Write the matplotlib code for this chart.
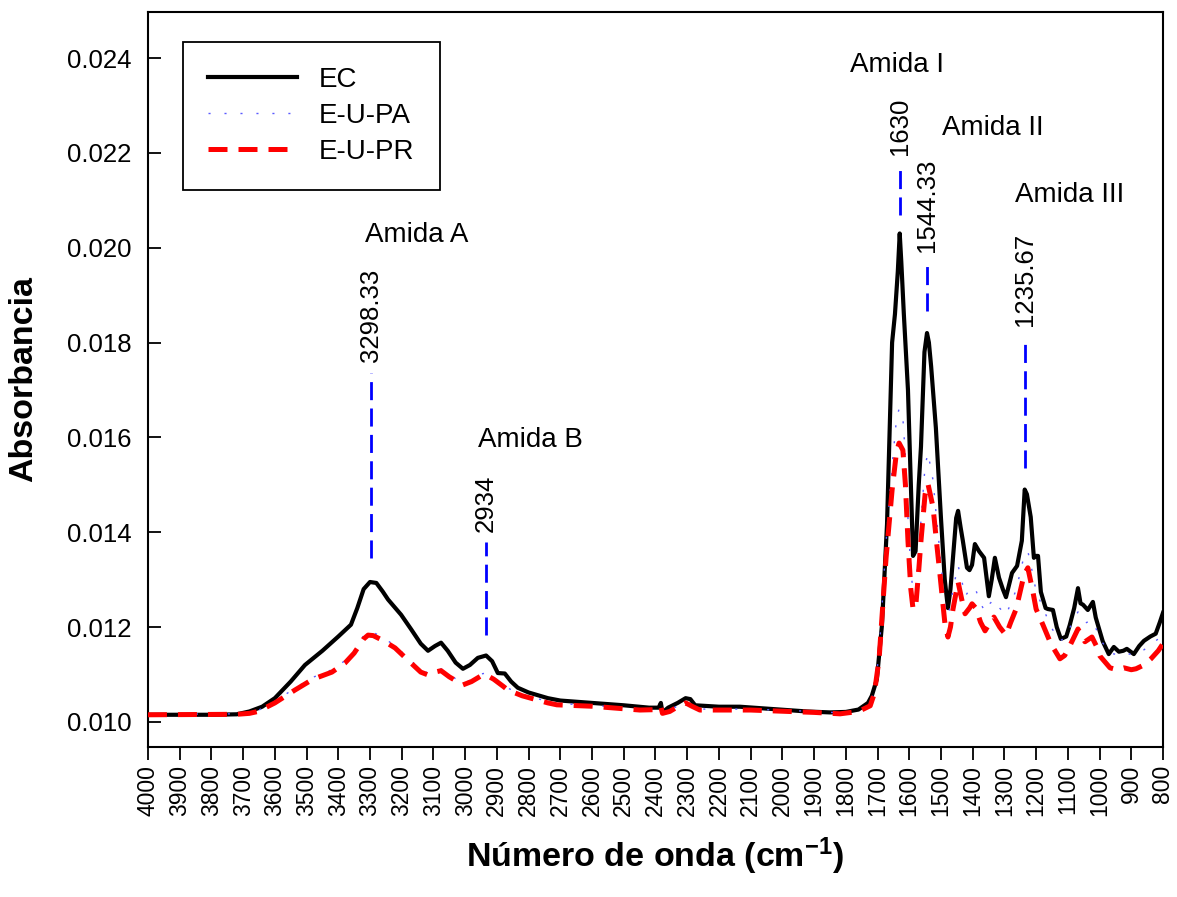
import matplotlib
matplotlib.use("Agg")
import matplotlib.pyplot as plt
from matplotlib.ticker import MultipleLocator, FormatStrFormatter

plt.rcParams['font.family'] = ['Liberation Sans', 'DejaVu Sans']
plt.rcParams['mathtext.fontset'] = 'custom'
plt.rcParams['mathtext.rm'] = 'Liberation Sans:bold'
plt.rcParams['mathtext.it'] = 'Liberation Sans:bold'
plt.rcParams['mathtext.bf'] = 'Liberation Sans:bold'

# -----------------------------
# Data
# -----------------------------
wn_ec = [4000, 3900, 3800, 3720, 3680, 3640, 3600, 3550, 3505, 3450, 3400, 3360,
         3340, 3320, 3300, 3280, 3260, 3243, 3220, 3202, 3170, 3140, 3117, 3095,
         3076, 3055, 3030, 3007, 2985, 2960, 2934, 2915, 2897, 2875, 2855, 2834,
         2800, 2739, 2700, 2600, 2500, 2420, 2390, 2383, 2378, 2360, 2330, 2305,
         2290, 2275, 2200, 2134, 2050, 1923, 1850, 1800, 1760, 1730, 1718, 1702,
         1686, 1670, 1654, 1645, 1636, 1630, 1625, 1617, 1604, 1595, 1588, 1580,
         1570, 1563, 1552, 1544, 1538, 1531, 1516, 1500, 1488, 1478, 1470, 1462,
         1452, 1446, 1438, 1431, 1418, 1410, 1402, 1393, 1380, 1364, 1349, 1340,
         1330, 1317, 1305, 1295, 1285, 1276, 1260, 1245, 1236, 1229, 1217, 1207,
         1200, 1194, 1185, 1170, 1163, 1147, 1135, 1122, 1105, 1094, 1080, 1068,
         1060, 1052, 1037, 1021, 1012, 1005, 990, 971, 955, 939, 925, 914,
         892, 875, 860, 840, 823, 810, 800]
ec = [0.01015, 0.01015, 0.01015, 0.01016, 0.01022, 0.01032, 0.01050, 0.01085, 0.01120, 0.01150, 0.01180, 0.01205,
      0.01240, 0.01280, 0.01295, 0.01293, 0.01275, 0.01258, 0.01240, 0.01226, 0.01195, 0.01165, 0.01150, 0.01160,
      0.01167, 0.01150, 0.01125, 0.01112, 0.01120, 0.01135, 0.01140, 0.01128, 0.01103, 0.01102, 0.01085, 0.01072,
      0.01062, 0.01050, 0.01045, 0.01040, 0.01035, 0.01030, 0.01030, 0.01040, 0.01020, 0.01030, 0.01040, 0.01050,
      0.01048, 0.01035, 0.01032, 0.01032, 0.01028, 0.01022, 0.01020, 0.01021, 0.01026, 0.01040, 0.01055, 0.01090,
      0.01204, 0.01417, 0.01800, 0.01860, 0.01950, 0.02030, 0.01970, 0.01860, 0.01700, 0.01500, 0.01350, 0.01360,
      0.01500, 0.01580, 0.01780, 0.01820, 0.01800, 0.01750, 0.01620, 0.01430, 0.01300, 0.01240, 0.01280, 0.01346,
      0.01430, 0.01445, 0.01410, 0.01382, 0.01325, 0.01320, 0.01331, 0.01375, 0.01360, 0.01346, 0.01265, 0.01300,
      0.01346, 0.01304, 0.01280, 0.01263, 0.01290, 0.01314, 0.01329, 0.01382, 0.01490, 0.01480, 0.01432, 0.01346,
      0.01350, 0.01350, 0.01274, 0.01240, 0.01238, 0.01236, 0.01200, 0.01175, 0.01180, 0.01204, 0.01240, 0.01282,
      0.01250, 0.01247, 0.01236, 0.01253, 0.01220, 0.01204, 0.01170, 0.01143, 0.01158, 0.01148, 0.01150, 0.01154,
      0.01143, 0.01160, 0.01171, 0.01180, 0.01186, 0.01210, 0.01230]

wn_eu = [4000, 3720, 3680, 3653, 3600, 3537, 3480, 3420, 3379, 3350, 3320, 3306,
         3290, 3260, 3221, 3180, 3140, 3117, 3095, 3076, 3050, 3007, 2980, 2950,
         2934, 2910, 2880, 2865, 2820, 2739, 2711, 2600, 2449, 2390, 2383, 2378,
         2355, 2330, 2305, 2285, 2260, 2100, 1900, 1818, 1760, 1723, 1710, 1695,
         1673, 1654, 1640, 1632, 1620, 1612, 1604, 1595, 1588, 1580, 1570, 1563,
         1550, 1541, 1525, 1514, 1503, 1487, 1478, 1470, 1462, 1446, 1435, 1424,
         1410, 1402, 1390, 1375, 1361, 1345, 1333, 1315, 1295, 1280, 1263, 1245,
         1238, 1226, 1210, 1200, 1178, 1153, 1125, 1110, 1094, 1068, 1055, 1046,
         1024, 1010, 999, 967, 945, 923, 900, 885, 860, 838, 815, 800]
eu_pa = [0.01016, 0.01017, 0.01019, 0.01024, 0.01043, 0.01071, 0.01094, 0.01110, 0.01129, 0.01150, 0.01182, 0.01190,
         0.01189, 0.01178, 0.01161, 0.01135, 0.01110, 0.01103, 0.01109, 0.01112, 0.01099, 0.01082, 0.01089, 0.01101,
         0.01103, 0.01094, 0.01079, 0.01071, 0.01058, 0.01043, 0.01039, 0.01035, 0.01027, 0.01028, 0.01034, 0.01020,
         0.01024, 0.01034, 0.01042, 0.01035, 0.01027, 0.01027, 0.01022, 0.01019, 0.01024, 0.01037, 0.01065, 0.01145,
         0.01380, 0.01540, 0.01640, 0.01660, 0.01640, 0.01560, 0.01430, 0.01320, 0.01275, 0.01280, 0.01360, 0.01425,
         0.01540, 0.01567, 0.01510, 0.01430, 0.01355, 0.01245, 0.01225, 0.01245, 0.01280, 0.01330, 0.01300, 0.01265,
         0.01278, 0.01285, 0.01278, 0.01250, 0.01232, 0.01250, 0.01258, 0.01240, 0.01225, 0.01250, 0.01278, 0.01330,
         0.01350, 0.01360, 0.01310, 0.01275, 0.01240, 0.01200, 0.01170, 0.01178, 0.01198, 0.01232, 0.01218, 0.01208,
         0.01215, 0.01195, 0.01175, 0.01145, 0.01142, 0.01146, 0.01142, 0.01143, 0.01152, 0.01163, 0.01175, 0.01190]
eu_pr = [0.01015, 0.01016, 0.01018, 0.01022, 0.01040, 0.01067, 0.01090, 0.01105, 0.01124, 0.01145, 0.01175, 0.01183,
         0.01182, 0.01172, 0.01156, 0.01130, 0.01105, 0.01099, 0.01105, 0.01108, 0.01095, 0.01078, 0.01085, 0.01097,
         0.01099, 0.01090, 0.01075, 0.01067, 0.01055, 0.01040, 0.01036, 0.01033, 0.01025, 0.01026, 0.01032, 0.01018,
         0.01022, 0.01032, 0.01040, 0.01033, 0.01025, 0.01025, 0.01020, 0.01017, 0.01022, 0.01034, 0.01060, 0.01133,
         0.01346, 0.01489, 0.01570, 0.01588, 0.01573, 0.01500, 0.01382, 0.01280, 0.01238, 0.01240, 0.01320, 0.01382,
         0.01480, 0.01502, 0.01453, 0.01380, 0.01310, 0.01204, 0.01179, 0.01200, 0.01238, 0.01295, 0.01260, 0.01228,
         0.01240, 0.01249, 0.01240, 0.01210, 0.01192, 0.01210, 0.01221, 0.01200, 0.01183, 0.01210, 0.01238, 0.01290,
         0.01310, 0.01325, 0.01274, 0.01238, 0.01204, 0.01164, 0.01133, 0.01140, 0.01160, 0.01196, 0.01180, 0.01169,
         0.01179, 0.01160, 0.01139, 0.01114, 0.01110, 0.01114, 0.01110, 0.01112, 0.01120, 0.01133, 0.01150, 0.01165]

# peak markers: position, line bottom, line top, band name, name position
peak_pos = [3298.33, 2934, 1630, 1544.33, 1235.67]
peak_labels = ["3298.33", "2934", "1630", "1544.33", "1235.67"]
line_lo = [0.01346, 0.01183, 0.02069, 0.01866, 0.01535]
line_hi = [0.01736, 0.01379, 0.02174, 0.01968, 0.01812]
band_names = ["Amida A", "Amida B", "Amida I", "Amida II", "Amida III"]
band_x = [3316, 2960, 1787, 1497, 1267]
band_y = [0.02027, 0.01594, 0.02385, 0.02252, 0.02111]

# -----------------------------
# Plot
# -----------------------------
fig = plt.figure(figsize=(11.77, 8.97), dpi=100)
ax = fig.add_axes([0.1257, 0.1672, 0.8624, 0.8194])

ax.plot(wn_ec, ec, color="black", lw=3.0, label="EC", zorder=3)
ax.plot(wn_eu, eu_pa, color="#5a5aff", lw=1.0, linestyle=(0, (1.5, 10)), label="E-U-PA", zorder=4)
ax.plot(wn_eu, eu_pr, color="red", lw=3.6, linestyle=(0, (3.8, 2.2)), label="E-U-PR", zorder=5)

for p, lab, lo, hi, name, bx, by in zip(peak_pos, peak_labels, line_lo, line_hi,
                                         band_names, band_x, band_y):
    ax.plot([p, p], [lo, hi], color="blue", lw=2.0, linestyle=(0, (6.5, 3)), zorder=2)
    ax.text(p, hi + 0.00022, lab, rotation=90, ha="center", va="bottom", fontsize=18.5)
    ax.text(bx, by, name, ha="left", va="center", fontsize=20)

ax.set_xlim(4000, 800)
ax.set_ylim(0.00947, 0.02497)
ax.xaxis.set_major_locator(MultipleLocator(100))
ax.set_yticks([0.010, 0.012, 0.014, 0.016, 0.018, 0.020, 0.022, 0.024])
ax.yaxis.set_major_formatter(FormatStrFormatter("%.3f"))
ax.tick_params(axis="x", direction="out", length=9, width=1.3, labelsize=16.5,
               labelrotation=90, pad=4)
ax.tick_params(axis="y", direction="in", length=9, width=1.3, labelsize=18.5, pad=12)
for s in ax.spines.values():
    s.set_linewidth(1.5)

ax.set_xlabel("Número de onda (cm$^{\\mathregular{-1}}$)", fontsize=24.5, fontweight="bold",
              labelpad=14)
ax.set_ylabel("Absorbancia", fontsize=24.5, fontweight="bold", labelpad=20)

leg = ax.legend(loc="upper left", bbox_to_anchor=(0.0345, 0.959), borderaxespad=0,
                fontsize=20, handlelength=3.2, handletextpad=0.8, labelspacing=0.35,
                borderpad=0.9, fancybox=False, framealpha=1, edgecolor="black")
leg.get_frame().set_linewidth(1.3)

plt.savefig("out.png", dpi=100)
